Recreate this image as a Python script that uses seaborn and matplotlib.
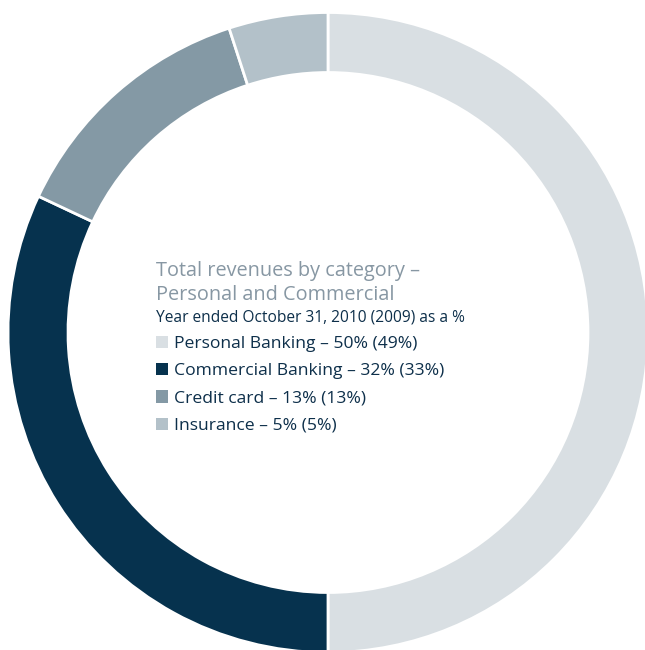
import matplotlib
matplotlib.use("Agg")
import matplotlib.pyplot as plt
import seaborn as sns

sns.set_theme(style="white")
plt.rcParams['font.family'] = ['Open Sans', 'DejaVu Sans']

categories = ["Personal Banking", "Commercial Banking", "Credit card", "Insurance"]
share_2010 = [50, 32, 13, 5]
share_2009 = [49, 33, 13, 5]
colors = ["#D9DFE3", "#06324E", "#8499A5", "#B3C1C9"]

W, H = 645, 650
fig = plt.figure(figsize=(W / 100, H / 100), dpi=100)
ax = fig.add_axes([0, 0, 1, 1])

wedges, _ = ax.pie(share_2010, colors=colors, startangle=90, counterclock=False,
                   radius=320, wedgeprops=dict(width=60, edgecolor="white", linewidth=2))

# one data unit per pixel, ring centre placed left of middle
cx, cy = 328, 332.5
ax.set_xlim(-cx, W - cx)
ax.set_ylim(-(H - cy), cy)
ax.set_aspect("equal")
ax.axis("off")

navy = "#0D2F4A"
title_col = "#8797A3"
fig.text(156 / W, 1 - 276 / H, "Total revenues by category –", color=title_col,
         fontsize=14.3, va="baseline", ha="left")
fig.text(156 / W, 1 - 300 / H, "Personal and Commercial", color=title_col,
         fontsize=14.3, va="baseline", ha="left")
fig.text(156 / W, 1 - 321.5 / H, "Year ended October 31, 2010 (2009) as a %", color=navy,
         fontsize=11.2, va="baseline", ha="left")

labels = [f"{c} – {a}% ({b}%)" for c, a, b in zip(categories, share_2010, share_2009)]
leg = ax.legend(wedges, labels, loc="upper left", bbox_to_anchor=(156 / W, 1 - 336 / H),
                bbox_transform=fig.transFigure, frameon=False, fontsize=12.6,
                handlelength=0.69, handleheight=0.69, handletextpad=0.34,
                labelspacing=0.63, borderpad=0, borderaxespad=0)
for t in leg.get_texts():
    t.set_color(navy)
for h in leg.legend_handles:
    h.set_edgecolor("none")

fig.savefig("out.png", dpi=100)
